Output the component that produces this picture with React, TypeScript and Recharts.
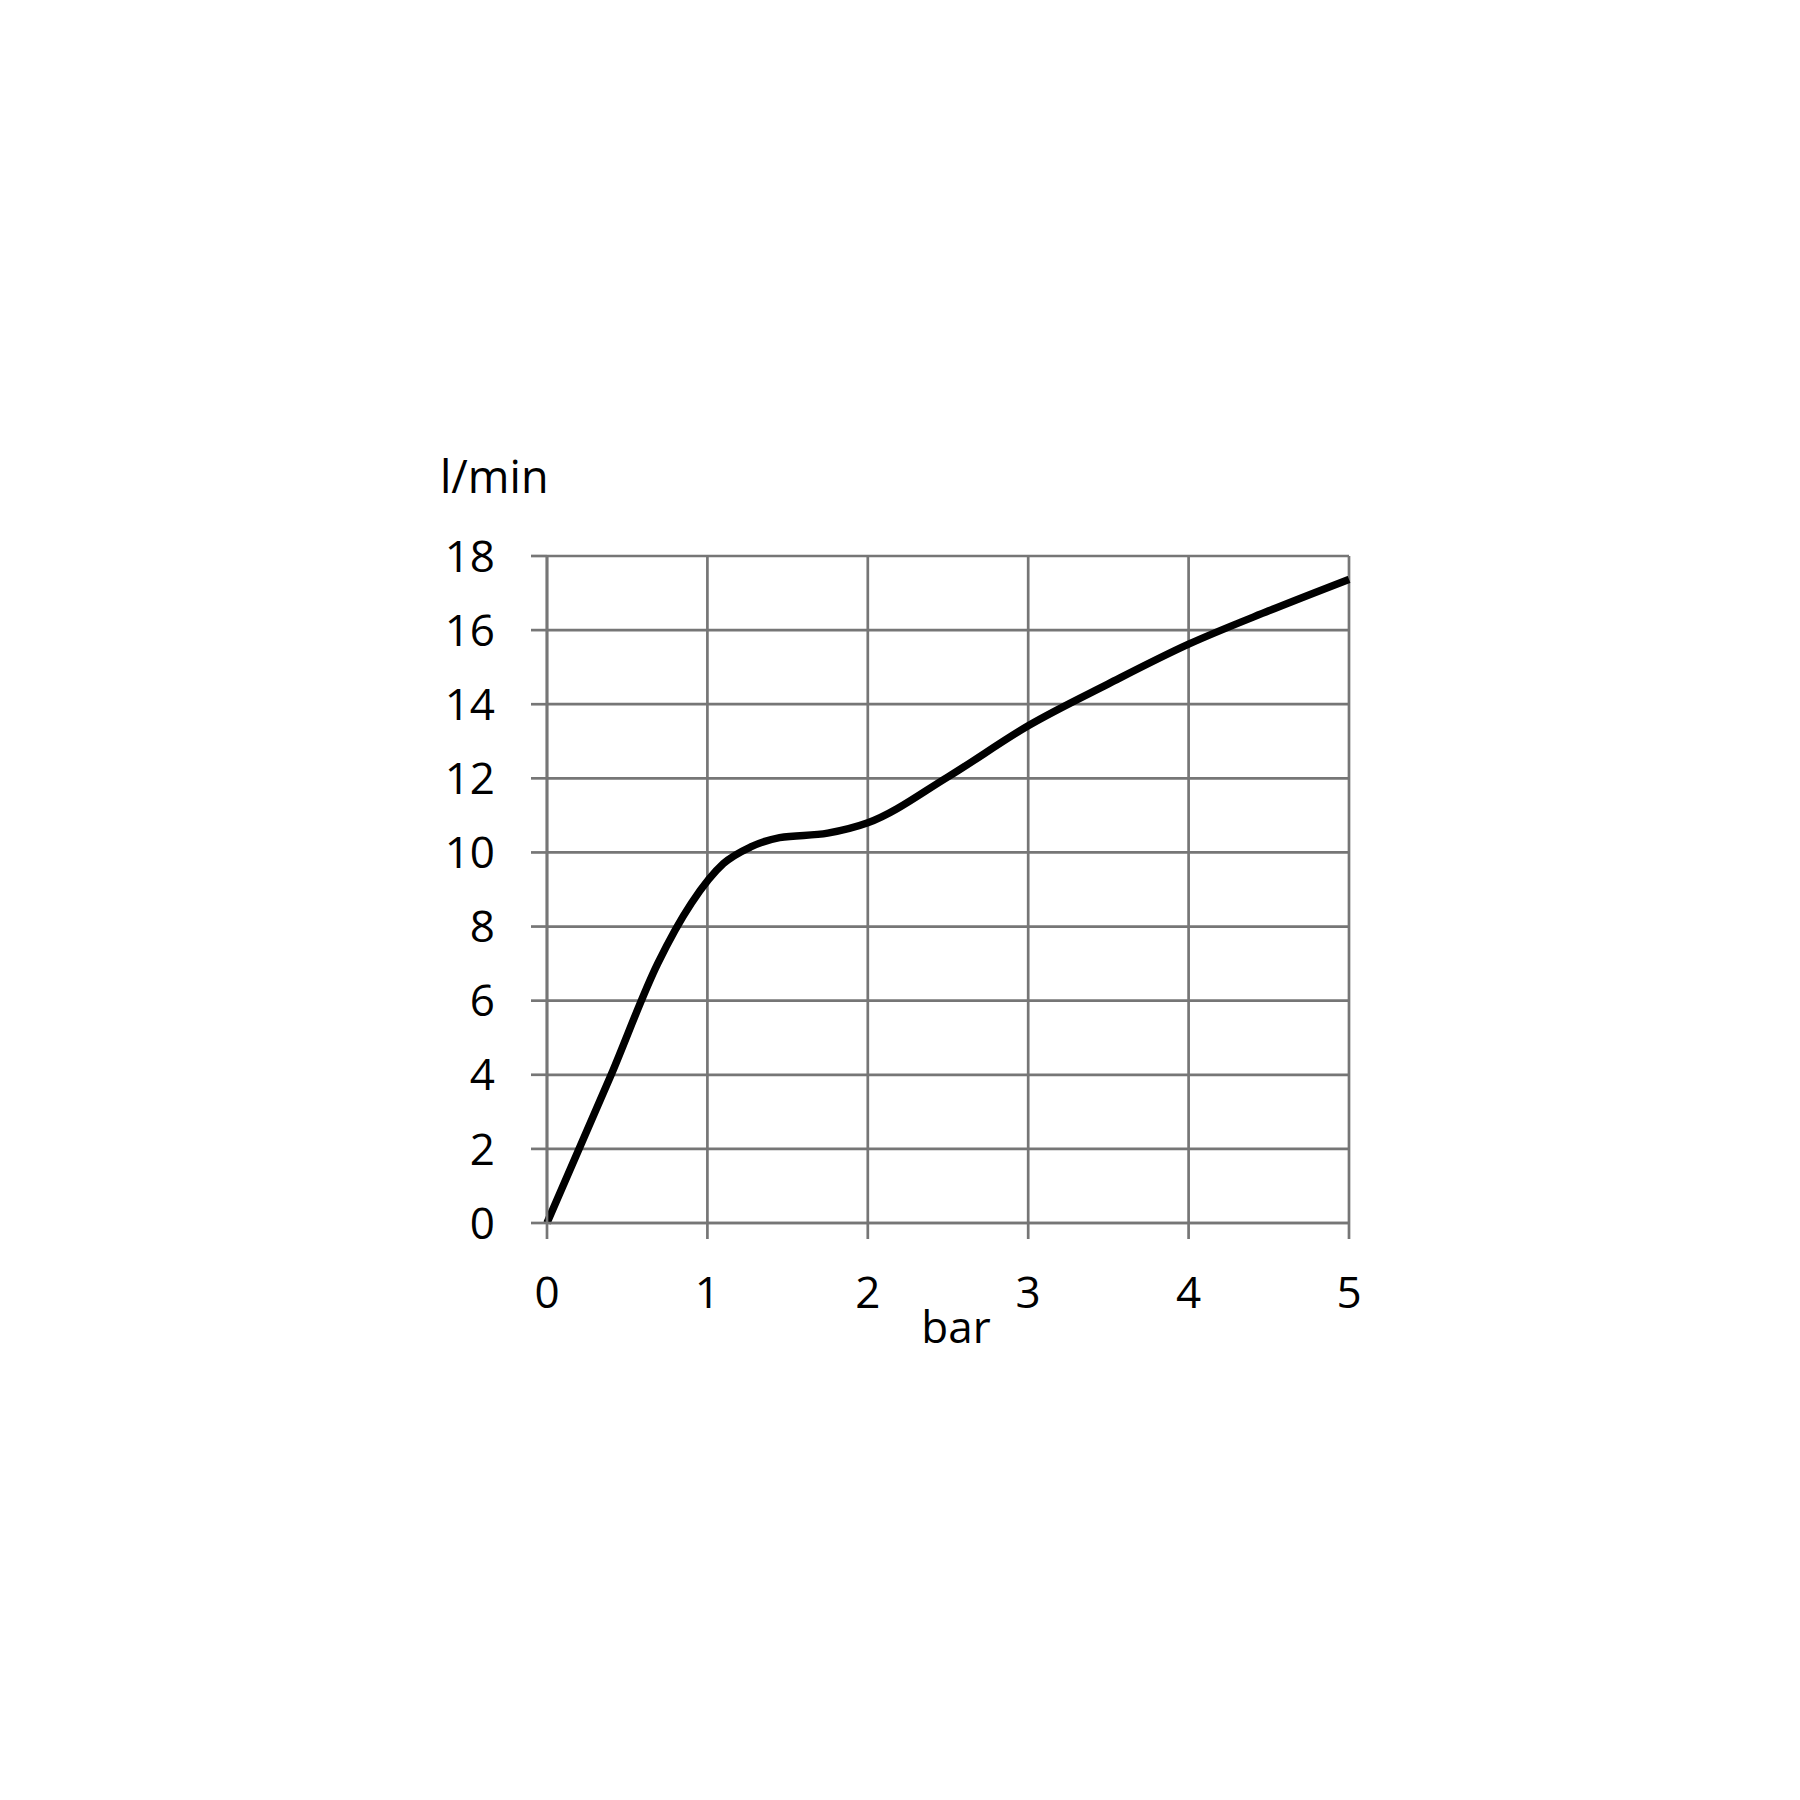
import React from "react";
import { LineChart, Line, XAxis, YAxis, CartesianGrid, Label } from "recharts";

const pressureBar = [0, 0.4, 0.69, 0.9, 1.1, 1.27, 1.45, 1.75, 2, 2.5, 3, 3.5, 4, 4.5, 5];
const flowLpm = [0, 4, 7, 8.63, 9.7, 10.15, 10.4, 10.52, 10.8, 12.04, 13.42, 14.55, 15.62, 16.52, 17.37];
const xTicks = [0, 1, 2, 3, 4, 5];
const yTicks = [0, 2, 4, 6, 8, 10, 12, 14, 16, 18];

const data = pressureBar.map((x, i) => ({ x, y: flowLpm[i] }));

const FONT = "'Open Sans', sans-serif";
const GRID = "#767676";

export default function App() {
  return (
    <div style={{ width: 1792, height: 1792, background: "#fff" }}>
      <LineChart
        width={1792}
        height={1792}
        data={data}
        margin={{ top: 548, right: 451, bottom: 477, left: 399 }}
      >
        <CartesianGrid stroke={GRID} strokeWidth={2.7} />
        <XAxis
          dataKey="x"
          type="number"
          domain={[0, 5]}
          ticks={xTicks}
          height={100}
          axisLine={{ stroke: GRID, strokeWidth: 2.7 }}
          tickLine={{ stroke: GRID, strokeWidth: 2.7 }}
          tickSize={16}
          tickMargin={38}
          tick={{ fill: "#000", fontSize: 44, fontFamily: FONT }}
        >
          <Label
            content={(props: any) => {
              const vb = props.viewBox || {};
              return (
                <text
                  x={vb.x + vb.width * (409 / 802)}
                  y={vb.y + 120}
                  textAnchor="middle"
                  fontSize={44}
                  fontFamily={FONT}
                  fill="#000"
                >
                  bar
                </text>
              );
            }}
          />
        </XAxis>
        <YAxis
          dataKey="y"
          type="number"
          domain={[0, 18]}
          ticks={yTicks}
          width={140}
          axisLine={{ stroke: GRID, strokeWidth: 2.7 }}
          tickLine={{ stroke: GRID, strokeWidth: 2.7 }}
          tickSize={16}
          tickMargin={36}
          tick={{ fill: "#000", fontSize: 44, fontFamily: FONT }}
        >
          <Label
            content={(props: any) => {
              const vb = props.viewBox || {};
              return (
                <text
                  x={vb.x + vb.width - 107}
                  y={vb.y - 63}
                  textAnchor="start"
                  fontSize={45}
                  fontFamily={FONT}
                  fill="#000"
                >
                  l/min
                </text>
              );
            }}
          />
        </YAxis>
        <Line
          type="monotone"
          dataKey="y"
          stroke="#000"
          strokeWidth={7.5}
          dot={false}
          activeDot={false}
          isAnimationActive={false}
        />
      </LineChart>
    </div>
  );
}
